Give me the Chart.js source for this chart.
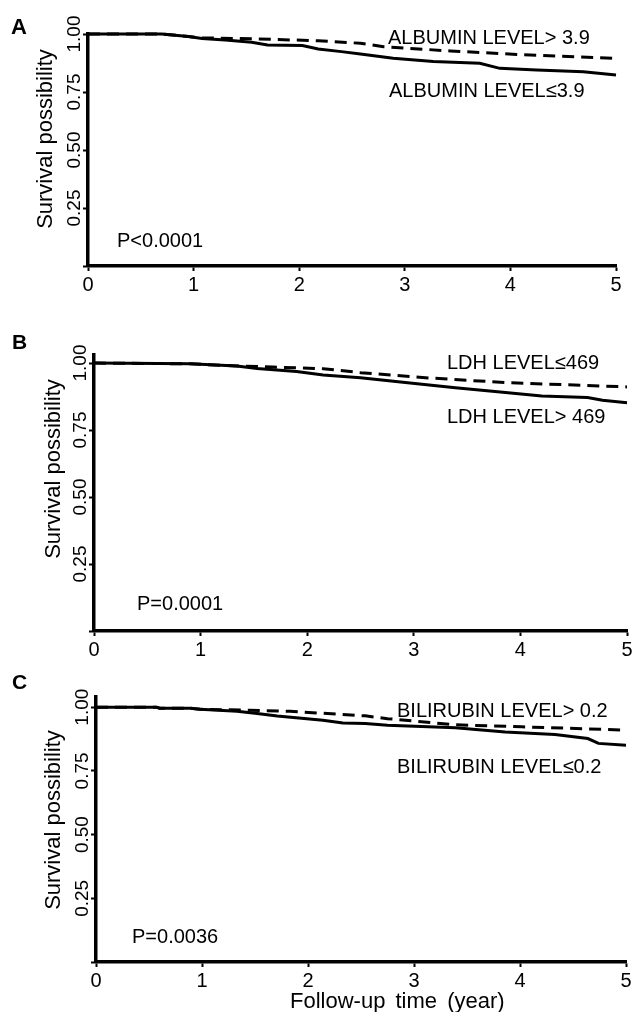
<!DOCTYPE html>
<html><head><meta charset="utf-8">
<script src="https://cdn.jsdelivr.net/npm/chart.js@4/dist/chart.umd.min.js"></script>
<style>
html,body{margin:0;padding:0;background:#fff;}
#wrap{position:relative;width:635px;height:1012px;overflow:hidden;background:#fff;}
canvas{position:absolute;left:0;}
</style></head><body>
<div id="wrap">
<canvas id="cA" width="635" height="300" style="top:0px"></canvas>
<canvas id="cB" width="635" height="350" style="top:320px"></canvas>
<canvas id="cC" width="635" height="342" style="top:670px"></canvas>
</div>
<script>
// ---- data ----
const xTicks = [0, 1, 2, 3, 4, 5];
const xTickLabels = ['0', '1', '2', '3', '4', '5'];
const yTicks = [0, 0.25, 0.5, 0.75, 1.0];
const yTickLabels = ['', '0.25', '0.50', '0.75', '1.00'];

const panelLetters = ['A', 'B', 'C'];
const yTitle = 'Survival possibility';
const xTitle = 'Follow-up time (year)';
const pValues = ['P<0.0001', 'P=0.0001', 'P=0.0036'];

// Panel A: albumin
const albHighLabel = 'ALBUMIN LEVEL> 3.9';
const albLowLabel = 'ALBUMIN LEVEL\u22643.9';
const albLowX = [0, 0.70, 0.95, 1.08, 1.30, 1.55, 1.70, 2.03, 2.18, 2.40, 2.58, 2.89, 3.27, 3.71, 3.90, 4.25, 4.69, 5.0];
const albLowY = [1.0, 1.0, 0.989, 0.981, 0.974, 0.964, 0.953, 0.950, 0.935, 0.924, 0.914, 0.895, 0.881, 0.874, 0.852, 0.845, 0.837, 0.823];
const albHighX = [0, 0.70, 0.95, 1.08, 1.39, 1.74, 2.18, 2.58, 2.80, 3.43, 4.06, 5.0];
const albHighY = [1.0, 1.0, 0.989, 0.983, 0.981, 0.977, 0.971, 0.960, 0.945, 0.927, 0.912, 0.895];

// Panel B: LDH
const ldhLowLabel = 'LDH LEVEL\u2264469';
const ldhHighLabel = 'LDH LEVEL> 469';
const ldhHighX = [0, 0.90, 1.34, 1.53, 1.90, 2.15, 2.50, 2.92, 3.39, 3.86, 4.20, 4.63, 4.77, 5.0];
const ldhHighY = [1.0, 0.997, 0.989, 0.980, 0.968, 0.955, 0.945, 0.927, 0.908, 0.890, 0.877, 0.871, 0.861, 0.852];
const ldhLowX = [0, 0.90, 1.34, 1.68, 2.15, 2.50, 3.08, 3.86, 5.0];
const ldhLowY = [1.0, 0.997, 0.989, 0.985, 0.979, 0.964, 0.946, 0.927, 0.911];

// Panel C: bilirubin
const bilHighLabel = 'BILIRUBIN LEVEL> 0.2';
const bilLowLabel = 'BILIRUBIN LEVEL\u22640.2';
const bilLowX = [0, 0.57, 0.60, 0.89, 0.98, 1.33, 1.52, 1.71, 2.14, 2.33, 2.54, 2.75, 3.39, 3.86, 4.33, 4.64, 4.74, 5.0];
const bilLowY = [1.0, 1.0, 0.996, 0.996, 0.992, 0.984, 0.975, 0.965, 0.949, 0.938, 0.936, 0.929, 0.919, 0.903, 0.893, 0.877, 0.858, 0.851];
const bilHighX = [0, 0.57, 0.60, 0.89, 0.98, 1.45, 1.83, 2.54, 2.75, 3.39, 4.02, 5.0];
const bilHighY = [1.0, 1.0, 0.996, 0.996, 0.992, 0.988, 0.984, 0.966, 0.955, 0.931, 0.923, 0.910];

// ---- layout / style ----
const FAM = '"Liberation Sans", Arial, sans-serif';
const pts = (xs, ys) => xs.map((x, i) => ({x: x, y: ys[i]}));

const panels = [
  { id: 'cA', h: 300, left: 88, right: 616, top: 34, bottom: 266, yMax: 1.0,
    solid: pts(albLowX, albLowY), dashed: pts(albHighX, albHighY),
    texts: [
      {t: panelLetters[0], x: 11, y: 34, f: 'bold 22px ' + FAM},
      {t: yTitle, x: 52, y: 139, f: '22px ' + FAM, rot: true},
      {t: pValues[0], x: 117, y: 247, f: '20px ' + FAM},
      {t: albHighLabel, x: 388, y: 44, f: '20px ' + FAM},
      {t: albLowLabel, x: 389, y: 97, f: '20px ' + FAM}
    ]},
  { id: 'cB', h: 350, left: 94, right: 627, top: 35, bottom: 311, yMax: 1.03,
    solid: pts(ldhHighX, ldhHighY), dashed: pts(ldhLowX, ldhLowY),
    texts: [
      {t: panelLetters[1], x: 12, y: 29, f: 'bold 21px ' + FAM},
      {t: yTitle, x: 60, y: 149, f: '22px ' + FAM, rot: true},
      {t: pValues[1], x: 137, y: 290, f: '20px ' + FAM},
      {t: ldhLowLabel, x: 447, y: 49, f: '20px ' + FAM},
      {t: ldhHighLabel, x: 447, y: 103, f: '20px ' + FAM}
    ]},
  { id: 'cC', h: 342, left: 96, right: 626, top: 27, bottom: 292, yMax: 1.04,
    solid: pts(bilLowX, bilLowY), dashed: pts(bilHighX, bilHighY),
    texts: [
      {t: panelLetters[2], x: 12, y: 19, f: 'bold 21px ' + FAM},
      {t: yTitle, x: 60, y: 150, f: '22px ' + FAM, rot: true},
      {t: pValues[2], x: 132, y: 273, f: '20px ' + FAM},
      {t: bilHighLabel, x: 397, y: 47, f: '20px ' + FAM},
      {t: bilLowLabel, x: 397, y: 103, f: '20px ' + FAM},
      {t: xTitle, x: 290, y: 338, f: '22px ' + FAM, ws: '4px'}
    ]}
];

function textPlugin(items) {
  return {
    id: 'panelTexts',
    afterDraw(chart) {
      const ctx = chart.ctx;
      items.forEach(it => {
        ctx.save();
        ctx.font = it.f;
        ctx.fillStyle = '#000';
        ctx.textBaseline = 'alphabetic';
        if (it.ws) { try { ctx.wordSpacing = it.ws; } catch (e) {} }
        ctx.translate(it.x, it.y);
        if (it.rot) { ctx.rotate(-Math.PI / 2); ctx.textAlign = 'center'; }
        else ctx.textAlign = 'left';
        ctx.fillText(it.t, 0, 0);
        ctx.restore();
      });
    }
  };
}

panels.forEach(P => {
  new Chart(document.getElementById(P.id), {
    type: 'line',
    data: {
      datasets: [
        { data: P.dashed, borderColor: '#000', borderWidth: 3, borderDash: [12, 7],
          pointRadius: 0, tension: 0, fill: false, clip: false },
        { data: P.solid, borderColor: '#000', borderWidth: 3,
          pointRadius: 0, tension: 0, fill: false, clip: false }
      ]
    },
    options: {
      responsive: false, animation: false, devicePixelRatio: 1,
      layout: { padding: { left: 0, top: P.top, right: 635 - P.right, bottom: 0 } },
      plugins: { legend: { display: false }, tooltip: { enabled: false } },
      scales: {
        x: {
          type: 'linear', min: 0, max: 5,
          afterBuildTicks: s => { s.ticks = xTicks.map(v => ({ value: v })); },
          afterFit: s => { s.height = P.h - P.bottom; },
          grid: { display: true, drawOnChartArea: false, drawTicks: true, tickLength: 5, tickWidth: 2, tickColor: '#000' },
          border: { display: true, color: '#000', width: 3.5 },
          ticks: { color: '#000', font: { family: FAM, size: 20 }, padding: 2, maxRotation: 0, minRotation: 0, autoSkip: false,
                   callback: v => xTickLabels[xTicks.indexOf(v)] }
        },
        y: {
          type: 'linear', min: 0, max: P.yMax,
          afterBuildTicks: s => { s.ticks = yTicks.map(v => ({ value: v })); },
          afterFit: s => { s.width = P.left; },
          grid: { display: true, drawOnChartArea: false, drawTicks: true, tickLength: 5, tickWidth: 2, tickColor: '#000' },
          border: { display: true, color: '#000', width: 3.5 },
          ticks: { color: '#000', font: { family: FAM, size: 19 }, padding: -10, minRotation: 90, maxRotation: 90,
                   crossAlign: 'center', autoSkip: false,
                   callback: v => yTickLabels[yTicks.indexOf(v)] }
        }
      }
    },
    plugins: [textPlugin(P.texts)]
  });
});
</script>
</body></html>
